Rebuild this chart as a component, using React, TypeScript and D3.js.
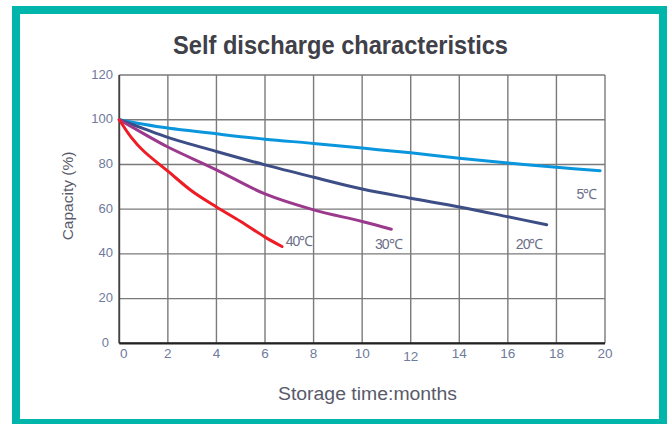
import React from "react";
import * as d3 from "d3";

type Pt = [number, number];

const xTicks = [0, 2, 4, 6, 8, 10, 12, 14, 16, 18, 20];
const yTicks = [0, 20, 40, 60, 80, 100, 120];

const curve5C: Pt[] = [[0, 100], [1, 98], [2, 96.3], [4, 93.7], [6, 91.3], [8, 89.4], [10, 87.3], [12, 85.2], [14, 82.8], [16, 80.6], [18, 78.7], [19.8, 77.2]];
const curve20C: Pt[] = [[0, 100], [1, 96], [2, 92.1], [4, 85.8], [6, 79.8], [8, 74.3], [10, 69], [12, 64.9], [14, 61], [16, 56.6], [17.6, 53]];
const curve30C: Pt[] = [[0, 100], [1, 93.8], [2, 87.8], [4, 77.6], [6, 66.8], [8, 59.7], [10, 54.5], [11.2, 51]];
const curve40C: Pt[] = [[0, 100], [0.5, 92], [1, 86], [2, 77], [3, 68], [4, 61], [5, 54.5], [6, 47.5], [6.7, 43.3]];

const seriesNames = ["5℃", "20℃", "30℃", "40℃"];
const seriesColors = ["#0a96dc", "#3d4d85", "#9b3a8c", "#ee1c25"];
const seriesData = [curve5C, curve20C, curve30C, curve40C];
// label anchor positions in data units [month, capacity]
const labelPos: Pt[] = [[18.83, 64.5], [16.33, 42.2], [10.53, 42.2], [6.85, 43.5]];

export default function App() {
  const W = 670, H = 424;
  const left = 119.3, right = 605, top = 75, bottom = 343.3;
  const x = d3.scaleLinear().domain([0, 20]).range([left, right]);
  const y = d3.scaleLinear().domain([0, 120]).range([bottom, top]);
  const line = d3.line<Pt>().x(d => x(d[0])).y(d => y(d[1])).curve(d3.curveCatmullRom.alpha(0.5));
  const tickColor = "#6f7a9c";
  const font = "Arial, 'Liberation Sans', sans-serif";

  return (
    <svg width={W} height={H} style={{ position: "absolute", left: 0, top: 0, background: "#fff", fontFamily: font }}>
      <rect x={16} y={10} width={647} height={413} fill="#fff" stroke="#00b5a9" strokeWidth={8} />
      <text x={173} y={54} fontSize={26} fontWeight="bold" fill="#404048" textLength={335} lengthAdjust="spacingAndGlyphs">Self discharge characteristics</text>
      {/* grid */}
      {xTicks.map(t => (
        <line key={"gx" + t} x1={x(t)} x2={x(t)} y1={top} y2={bottom} stroke="#7a7a7a" strokeWidth={1.4} />
      ))}
      {yTicks.map(t => (
        <line key={"gy" + t} x1={left} x2={right} y1={y(t)} y2={y(t)} stroke="#7a7a7a" strokeWidth={1.4} />
      ))}
      <line x1={left} x2={left} y1={top} y2={bottom} stroke="#444" strokeWidth={1.8} />
      <line x1={left} x2={right} y1={bottom} y2={bottom} stroke="#222" strokeWidth={2.2} />
      {/* tick labels */}
      {yTicks.map(t => (
        <text key={"ty" + t} x={t === 0 ? 109 : 113} y={y(t) + 3.5} textAnchor="end" fontSize={13} fill={tickColor}>{t}</text>
      ))}
      {xTicks.map(t => (
        <text key={"tx" + t} x={t === 0 ? x(t) + 4.5 : x(t)} y={t === 12 ? 361 : 358} textAnchor="middle" fontSize={13.5} fill={tickColor}>{t}</text>
      ))}
      {/* series */}
      {seriesData.map((d, i) => (
        <path key={"s" + i} d={line(d) || ""} fill="none" stroke={seriesColors[i]} strokeWidth={3} strokeLinecap="round" strokeLinejoin="round" />
      ))}
      {seriesNames.map((n, i) => (
        <text key={"l" + i} x={x(labelPos[i][0])} y={y(labelPos[i][1])} fontSize={14} fill="#6a6e86" letterSpacing={-1}>{n}</text>
      ))}
      <text x={278} y={400} fontSize={18} fill="#585a6a" textLength={179} lengthAdjust="spacingAndGlyphs">Storage time:months</text>
      <text transform={`translate(73,196) rotate(-90)`} textAnchor="middle" fontSize={15.5} fill="#585a6a">Capacity (%)</text>
    </svg>
  );
}
